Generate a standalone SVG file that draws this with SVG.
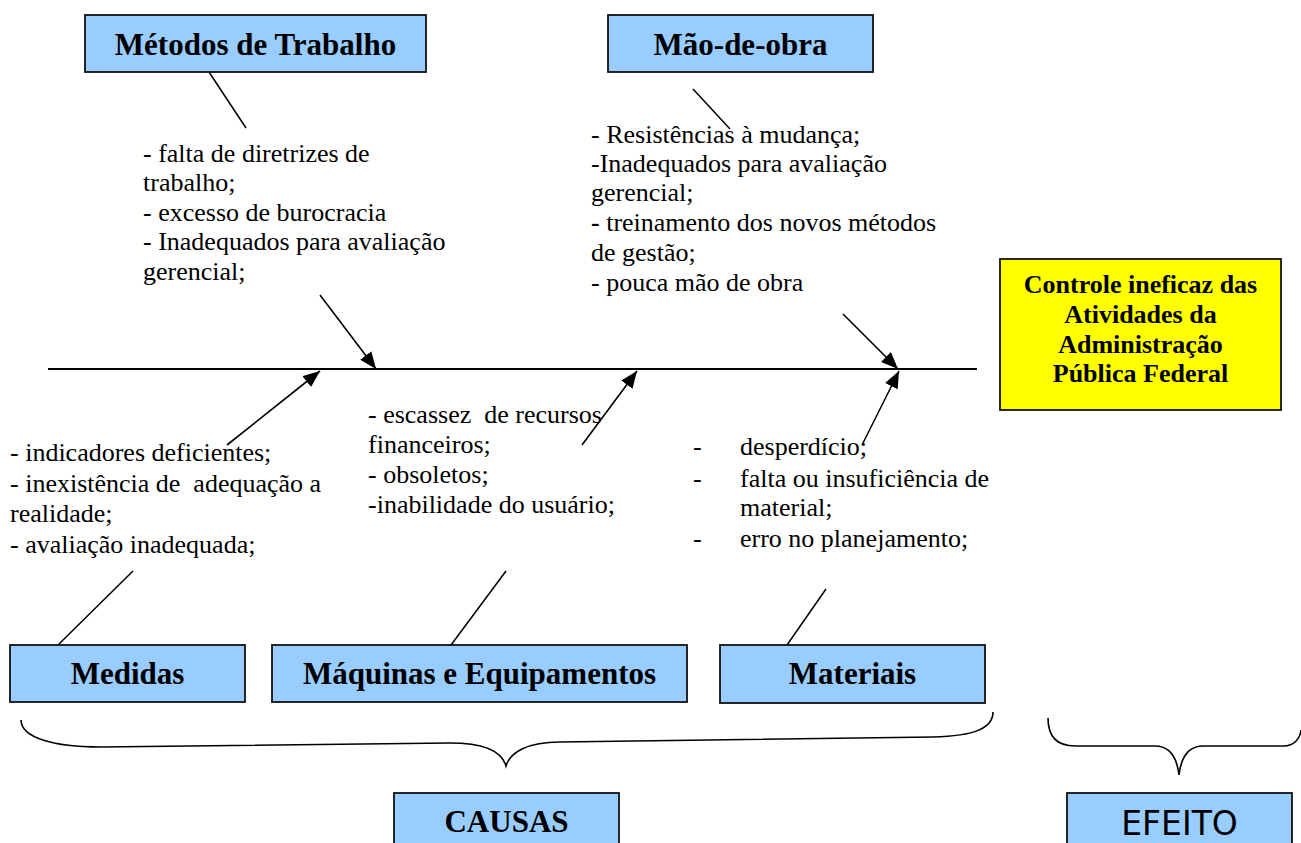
<svg xmlns="http://www.w3.org/2000/svg" width="1301" height="843" viewBox="0 0 1301 843">
<style>
.box{fill:#99CCFF;stroke:#111;stroke-width:1.8}
.ybox{fill:#FFFF00;stroke:#111;stroke-width:1.8}
.hdr{font-family:"Liberation Serif","Times New Roman",serif;font-weight:bold;font-size:31px;fill:#000;text-anchor:middle}
.eff{font-family:"Liberation Serif","Times New Roman",serif;font-weight:bold;font-size:26px;fill:#000;text-anchor:middle}
.body{font-family:"Liberation Serif","Times New Roman",serif;font-size:26px;fill:#000}
.sans{font-family:"DejaVu Sans",sans-serif;font-size:33px;fill:#000;text-anchor:middle}
.ln{stroke:#000;stroke-width:1.5;fill:none}
.ar{stroke:#000;stroke-width:1.6;fill:none;marker-end:url(#ah)}
.brace{stroke:#000;stroke-width:1.6;fill:none}
</style>
<defs>
<marker id="ah" markerUnits="userSpaceOnUse" markerWidth="18" markerHeight="14" refX="17" refY="7" orient="auto">
<path d="M0,0 L17,7 L0,14 Z" fill="#000"/>
</marker>
</defs>
<rect width="1301" height="843" fill="#fff"/>
<g id="connectors">
<line x1="48" y1="369" x2="977" y2="369" stroke="#000" stroke-width="2"/>
<line class="ln" x1="209" y1="72" x2="246" y2="128"/>
<line class="ln" x1="693" y1="89" x2="730" y2="129"/>
<line class="ar" x1="320" y1="295" x2="376" y2="369"/>
<line class="ar" x1="843" y1="314" x2="898" y2="369"/>
<line class="ar" x1="227" y1="445" x2="320" y2="371"/>
<line class="ar" x1="582" y1="445" x2="637" y2="371"/>
<line class="ar" x1="862" y1="445" x2="899" y2="371"/>
<line class="ln" x1="58" y1="645" x2="133" y2="571"/>
<line class="ln" x1="451" y1="645" x2="506" y2="571"/>
<line class="ln" x1="787" y1="645" x2="826" y2="589"/>
<path class="brace" d="M21,720 C21,738 55,747 100,747 L450,743 C485,743 502,752 506,766 C510,752 528,742 560,742 L933,737 C975,736 993,728 993,712"/>
<path class="brace" d="M1048,718 C1048,735 1055,746 1075,746 L1155,746 C1170,746 1177,758 1179,775 C1181,758 1188,746 1203,746 L1283,746 C1295,746 1300,738 1301,730"/>
</g>
<g id="metodos">
<rect class="box" x="85" y="15" width="341" height="57"/>
<text class="hdr" x="255.5" y="55">Métodos de Trabalho</text>
</g>
<g id="metodos-causas">
<text class="body" x="143" y="162">- falta de diretrizes de</text>
<text class="body" x="143" y="191">trabalho;</text>
<text class="body" x="143" y="221">- excesso de burocracia</text>
<text class="body" x="143" y="250">- Inadequados para avaliação</text>
<text class="body" x="143" y="280">gerencial;</text>
</g>
<g id="maodeobra">
<rect class="box" x="608" y="15" width="265" height="57"/>
<text class="hdr" x="740.5" y="55">Mão-de-obra</text>
</g>
<g id="maodeobra-causas">
<text class="body" x="591" y="143">- Resistências à mudança;</text>
<text class="body" x="591" y="172">-Inadequados para avaliação</text>
<text class="body" x="591" y="201">gerencial;</text>
<text class="body" x="591" y="231"><tspan font-weight="bold">-</tspan> treinamento dos novos métodos</text>
<text class="body" x="591" y="261">de gestão;</text>
<text class="body" x="591" y="291">- pouca mão de obra</text>
</g>
<g id="efeito-box">
<rect class="ybox" x="1000" y="259" width="281" height="151"/>
<text class="eff" x="1140.5" y="293">Controle ineficaz das</text>
<text class="eff" x="1140.5" y="323">Atividades da</text>
<text class="eff" x="1140.5" y="353">Administração</text>
<text class="eff" x="1140.5" y="382">Pública Federal</text>
</g>
<g id="medidas-causas">
<text class="body" x="10" y="461">- indicadores deficientes;</text>
<text class="body" x="10" y="492" xml:space="preserve">- inexistência de  adequação a</text>
<text class="body" x="10" y="522">realidade;</text>
<text class="body" x="10" y="553">- avaliação inadequada;</text>
</g>
<g id="maquinas-causas">
<text class="body" x="368" y="423" xml:space="preserve">- escassez  de recursos</text>
<text class="body" x="368" y="453">financeiros;</text>
<text class="body" x="368" y="483">- obsoletos;</text>
<text class="body" x="368" y="513">-inabilidade do usuário;</text>
</g>
<g id="materiais-causas">
<text class="body" x="693" y="455">-</text>
<text class="body" x="740" y="455">desperdício;</text>
<text class="body" x="693" y="487">-</text>
<text class="body" x="740" y="487">falta ou insuficiência de</text>
<text class="body" x="740" y="516">material;</text>
<text class="body" x="693" y="547">-</text>
<text class="body" x="740" y="547">erro no planejamento;</text>
</g>
<g id="medidas">
<rect class="box" x="10" y="645" width="235" height="57"/>
<text class="hdr" x="127.5" y="684">Medidas</text>
</g>
<g id="maquinas">
<rect class="box" x="272" y="645" width="415" height="57"/>
<text class="hdr" x="479.5" y="684">Máquinas e Equipamentos</text>
</g>
<g id="materiais">
<rect class="box" x="720" y="645" width="265" height="58"/>
<text class="hdr" x="852.5" y="684">Materiais</text>
</g>
<g id="causas">
<rect class="box" x="394" y="793" width="225" height="60"/>
<text class="hdr" x="506.5" y="832">CAUSAS</text>
</g>
<g id="efeito">
<rect class="box" x="1067" y="793" width="225" height="60"/>
<text class="sans" x="1179.5" y="835">EFEITO</text>
</g>
</svg>
